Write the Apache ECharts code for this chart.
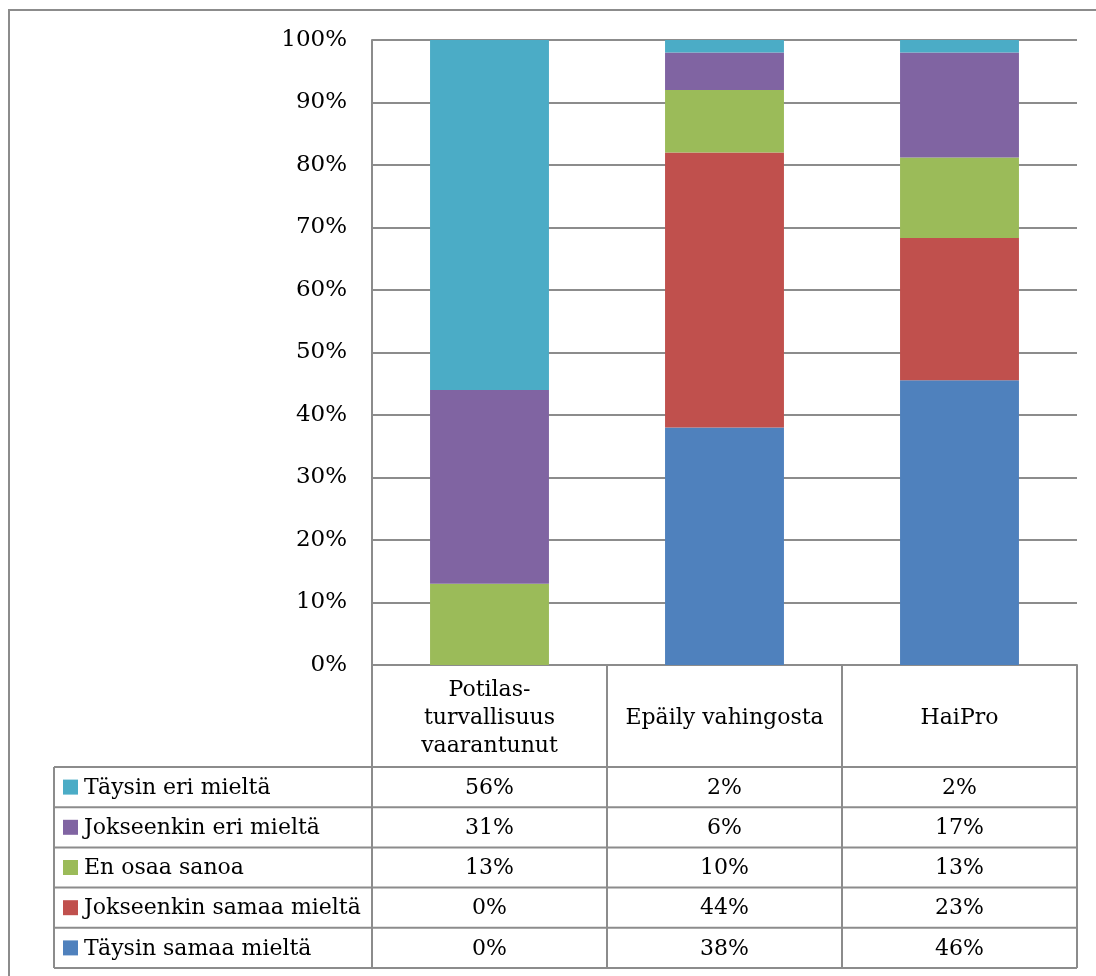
<!DOCTYPE html>
<html>
<head>
<meta charset="utf-8">
<script src="https://cdn.jsdelivr.net/npm/echarts@6/dist/echarts.min.js"></script>
<style>
  html, body { margin: 0; padding: 0; background: #fff; }
  #chart { width: 1096px; height: 976px; }
</style>
</head>
<body>
<div id="chart"></div>
<script>
// Categories (x axis) and answer groups, shown in the data table top to bottom
const categories = ['Potilas-\nturvallisuus\nvaarantunut', 'Epäily vahingosta', 'HaiPro'];
const rowNames = ['Täysin eri mieltä', 'Jokseenkin eri mieltä', 'En osaa sanoa', 'Jokseenkin samaa mieltä', 'Täysin samaa mieltä'];

// Percent of answers per category
const taysinEri = [56, 2, 2];
const jokseenkinEri = [31, 6, 17];
const enOsaaSanoa = [13, 10, 13];
const jokseenkinSamaa = [0, 44, 23];
const taysinSamaa = [0, 38, 46];

const rowValues = [taysinEri, jokseenkinEri, enOsaaSanoa, jokseenkinSamaa, taysinSamaa];
const rowColors = ['#4BACC6', '#8064A2', '#9BBB59', '#C0504D', '#4F81BD'];

// 100 % stacking: each column is scaled by its own total
const totals = categories.map((_, i) => rowValues.reduce((s, r) => s + r[i], 0));
const share = arr => arr.map((v, i) => v / totals[i] * 100);

const FONT = 'DejaVu Serif';
const LINE = '#8c8c8c';
const TEXT_SIZE = 22;

const chart = echarts.init(document.getElementById('chart'), null, { renderer: 'canvas' });

// bottom of the stack first
const series = rowNames.map((name, k) => ({
  name,
  type: 'bar',
  stack: 'total',
  barWidth: '50.6%',
  itemStyle: { color: rowColors[k] },
  data: share(rowValues[k])
})).reverse();

chart.setOption({
  animation: false,
  backgroundColor: '#fff',
  grid: { left: 372, right: 19, top: 40, bottom: 311 },
  xAxis: {
    type: 'category',
    data: categories,
    axisLine: { show: true, lineStyle: { color: LINE, width: 2 } },
    axisTick: { show: false },
    axisLabel: {
      fontFamily: FONT, fontSize: TEXT_SIZE, color: '#000',
      lineHeight: 28, margin: 53, verticalAlign: 'middle', interval: 0
    }
  },
  yAxis: {
    type: 'value',
    min: 0, max: 100, interval: 10,
    axisLine: { show: true, lineStyle: { color: LINE, width: 2 } },
    axisTick: { show: false },
    splitLine: { lineStyle: { color: LINE, width: 2 } },
    axisLabel: {
      formatter: '{value}%', fontFamily: FONT, fontSize: 23, color: '#000', margin: 25,
      padding: [4, 0, 0, 0]
    }
  },
  series
});

// Data table under the plot, aligned to the category bands
const HEADER_H = 102;
const ROW_H = 40.2;
const TABLE_LEFT = 54;

const cx = categories.map((_, i) => chart.convertToPixel({ xAxisIndex: 0 }, i));
const band = cx[1] - cx[0];
const edges = [cx[0] - band / 2].concat(cx.map(x => x + band / 2));
const yBase = chart.convertToPixel({ yAxisIndex: 0 }, 0);
const rowTop = yBase + HEADER_H;
const tableBottom = rowTop + rowNames.length * ROW_H;
const rightEdge = edges[edges.length - 1];

const g = [];
const line = (x1, y1, x2, y2) => g.push({
  type: 'line', shape: { x1, y1, x2, y2 }, style: { stroke: LINE, lineWidth: 2 }, silent: true
});

for (let r = 0; r <= rowNames.length; r++) {
  const y = rowTop + r * ROW_H;
  line(TABLE_LEFT, y, rightEdge, y);
}
line(TABLE_LEFT, rowTop, TABLE_LEFT, tableBottom);
edges.forEach(x => line(x, yBase, x, tableBottom));

rowNames.forEach((name, r) => {
  const yc = rowTop + r * ROW_H + ROW_H / 2;
  g.push({ type: 'rect', shape: { x: 63, y: yc - 7.5, width: 15, height: 15 }, style: { fill: rowColors[r] }, silent: true });
  g.push({ type: 'text', x: 84, y: yc + 1, style: { text: name, font: `${TEXT_SIZE}px "${FONT}"`, fill: '#000', textAlign: 'left', textVerticalAlign: 'middle' }, silent: true });
  rowValues[r].forEach((v, i) => {
    g.push({ type: 'text', x: cx[i], y: yc + 1, style: { text: v + '%', font: `${TEXT_SIZE}px "${FONT}"`, fill: '#000', textAlign: 'center', textVerticalAlign: 'middle' }, silent: true });
  });
});

// frame along the top and left
g.push({ type: 'polyline', shape: { points: [[9, 976], [9, 10], [1096, 10]] }, style: { stroke: LINE, lineWidth: 2, fill: null }, silent: true });

chart.setOption({ graphic: g });
</script>
</body>
</html>
